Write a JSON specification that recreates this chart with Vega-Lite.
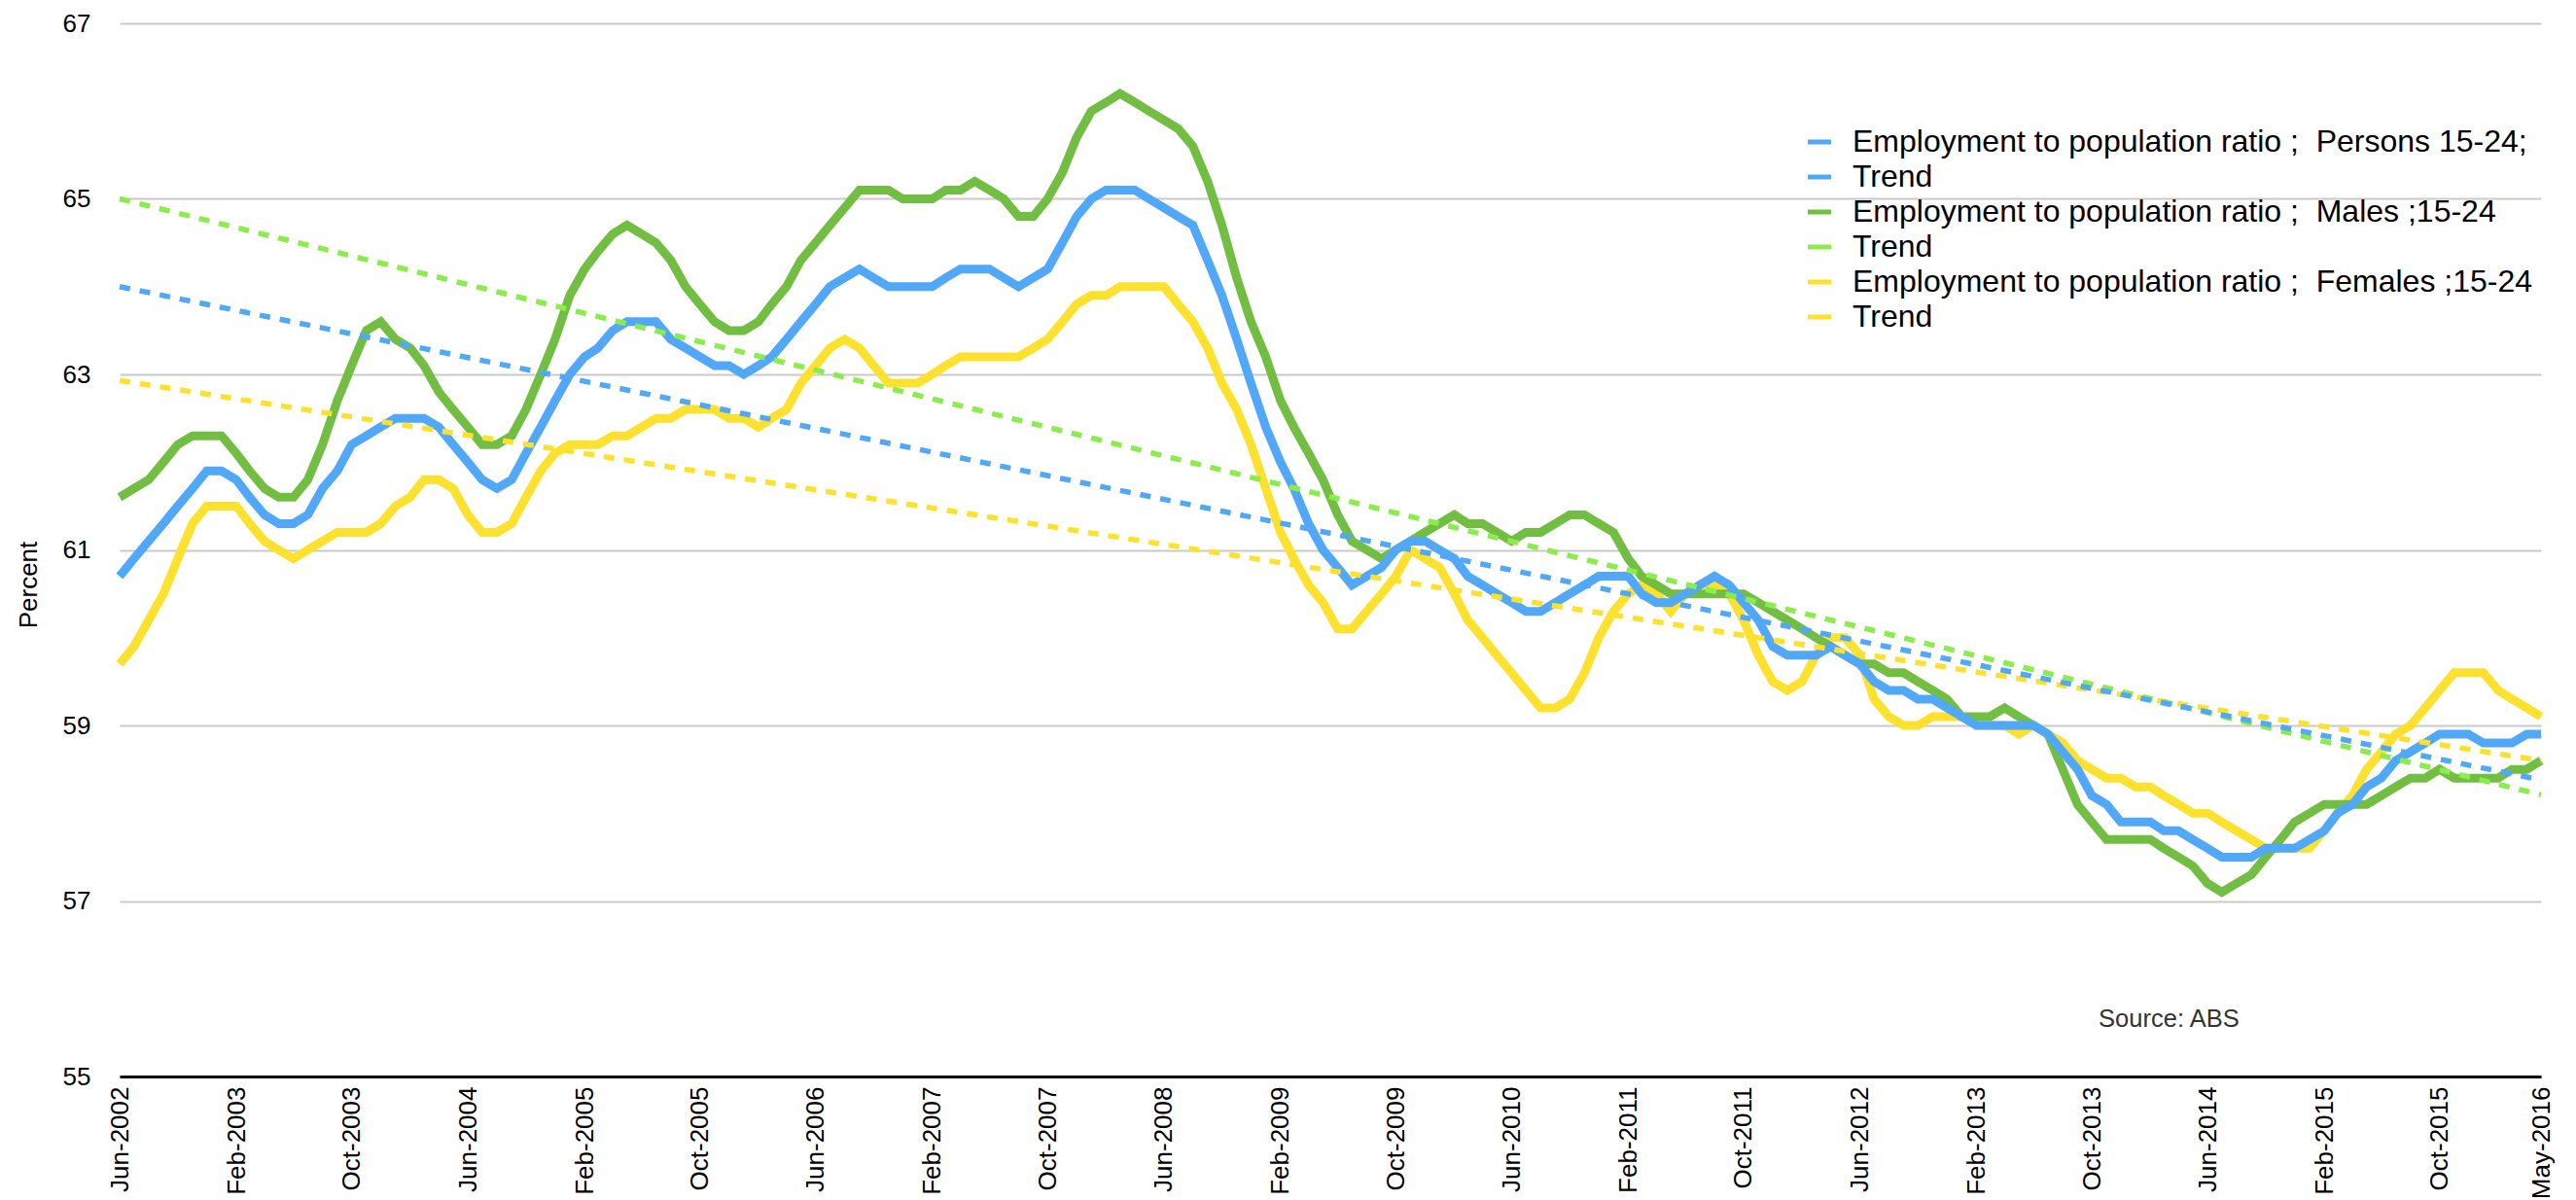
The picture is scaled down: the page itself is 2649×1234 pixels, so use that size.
{
  "$schema": "https://vega.github.io/schema/vega-lite/v6.json",
  "width": 2490,
  "height": 1083,
  "autosize": {"type": "none"},
  "padding": {"left": 123, "top": 24, "right": 36, "bottom": 127},
  "background": "white",
  "config": {
    "view": {"stroke": null},
    "font": "Liberation Sans",
    "axisY": {"format": "d", "titleFontSize": 26, "titleFontWeight": "normal", "titleColor": "black", "titleFont": "Liberation Sans"},
    "legend": {"title": null, "padding": 0}
  },
  "datasets": {
    "emp": [
      {"m":"2002-06","P":60.7,"M":61.6,"F":59.7},
      {"m":"2002-07","P":60.9,"M":61.7,"F":59.9},
      {"m":"2002-08","P":61.1,"M":61.8,"F":60.2},
      {"m":"2002-09","P":61.3,"M":62.0,"F":60.5},
      {"m":"2002-10","P":61.5,"M":62.2,"F":60.9},
      {"m":"2002-11","P":61.7,"M":62.3,"F":61.3},
      {"m":"2002-12","P":61.9,"M":62.3,"F":61.5},
      {"m":"2003-01","P":61.9,"M":62.3,"F":61.5},
      {"m":"2003-02","P":61.8,"M":62.1,"F":61.5},
      {"m":"2003-03","P":61.6,"M":61.9,"F":61.3},
      {"m":"2003-04","P":61.4,"M":61.7,"F":61.1},
      {"m":"2003-05","P":61.3,"M":61.6,"F":61.0},
      {"m":"2003-06","P":61.3,"M":61.6,"F":60.9},
      {"m":"2003-07","P":61.4,"M":61.8,"F":61.0},
      {"m":"2003-08","P":61.7,"M":62.2,"F":61.1},
      {"m":"2003-09","P":61.9,"M":62.7,"F":61.2},
      {"m":"2003-10","P":62.2,"M":63.1,"F":61.2},
      {"m":"2003-11","P":62.3,"M":63.5,"F":61.2},
      {"m":"2003-12","P":62.4,"M":63.6,"F":61.3},
      {"m":"2004-01","P":62.5,"M":63.4,"F":61.5},
      {"m":"2004-02","P":62.5,"M":63.3,"F":61.6},
      {"m":"2004-03","P":62.5,"M":63.1,"F":61.8},
      {"m":"2004-04","P":62.4,"M":62.8,"F":61.8},
      {"m":"2004-05","P":62.2,"M":62.6,"F":61.7},
      {"m":"2004-06","P":62.0,"M":62.4,"F":61.4},
      {"m":"2004-07","P":61.8,"M":62.2,"F":61.2},
      {"m":"2004-08","P":61.7,"M":62.2,"F":61.2},
      {"m":"2004-09","P":61.8,"M":62.3,"F":61.3},
      {"m":"2004-10","P":62.1,"M":62.6,"F":61.6},
      {"m":"2004-11","P":62.4,"M":63.0,"F":61.9},
      {"m":"2004-12","P":62.7,"M":63.4,"F":62.1},
      {"m":"2005-01","P":63.0,"M":63.9,"F":62.2},
      {"m":"2005-02","P":63.2,"M":64.2,"F":62.2},
      {"m":"2005-03","P":63.3,"M":64.4,"F":62.2},
      {"m":"2005-04","P":63.5,"M":64.6,"F":62.3},
      {"m":"2005-05","P":63.6,"M":64.7,"F":62.3},
      {"m":"2005-06","P":63.6,"M":64.6,"F":62.4},
      {"m":"2005-07","P":63.6,"M":64.5,"F":62.5},
      {"m":"2005-08","P":63.4,"M":64.3,"F":62.5},
      {"m":"2005-09","P":63.3,"M":64.0,"F":62.6},
      {"m":"2005-10","P":63.2,"M":63.8,"F":62.6},
      {"m":"2005-11","P":63.1,"M":63.6,"F":62.6},
      {"m":"2005-12","P":63.1,"M":63.5,"F":62.5},
      {"m":"2006-01","P":63.0,"M":63.5,"F":62.5},
      {"m":"2006-02","P":63.1,"M":63.6,"F":62.4},
      {"m":"2006-03","P":63.2,"M":63.8,"F":62.5},
      {"m":"2006-04","P":63.4,"M":64.0,"F":62.6},
      {"m":"2006-05","P":63.6,"M":64.3,"F":62.9},
      {"m":"2006-06","P":63.8,"M":64.5,"F":63.1},
      {"m":"2006-07","P":64.0,"M":64.7,"F":63.3},
      {"m":"2006-08","P":64.1,"M":64.9,"F":63.4},
      {"m":"2006-09","P":64.2,"M":65.1,"F":63.3},
      {"m":"2006-10","P":64.1,"M":65.1,"F":63.1},
      {"m":"2006-11","P":64.0,"M":65.1,"F":62.9},
      {"m":"2006-12","P":64.0,"M":65.0,"F":62.9},
      {"m":"2007-01","P":64.0,"M":65.0,"F":62.9},
      {"m":"2007-02","P":64.0,"M":65.0,"F":63.0},
      {"m":"2007-03","P":64.1,"M":65.1,"F":63.1},
      {"m":"2007-04","P":64.2,"M":65.1,"F":63.2},
      {"m":"2007-05","P":64.2,"M":65.2,"F":63.2},
      {"m":"2007-06","P":64.2,"M":65.1,"F":63.2},
      {"m":"2007-07","P":64.1,"M":65.0,"F":63.2},
      {"m":"2007-08","P":64.0,"M":64.8,"F":63.2},
      {"m":"2007-09","P":64.1,"M":64.8,"F":63.3},
      {"m":"2007-10","P":64.2,"M":65.0,"F":63.4},
      {"m":"2007-11","P":64.5,"M":65.3,"F":63.6},
      {"m":"2007-12","P":64.8,"M":65.7,"F":63.8},
      {"m":"2008-01","P":65.0,"M":66.0,"F":63.9},
      {"m":"2008-02","P":65.1,"M":66.1,"F":63.9},
      {"m":"2008-03","P":65.1,"M":66.2,"F":64.0},
      {"m":"2008-04","P":65.1,"M":66.1,"F":64.0},
      {"m":"2008-05","P":65.0,"M":66.0,"F":64.0},
      {"m":"2008-06","P":64.9,"M":65.9,"F":64.0},
      {"m":"2008-07","P":64.8,"M":65.8,"F":63.8},
      {"m":"2008-08","P":64.7,"M":65.6,"F":63.6},
      {"m":"2008-09","P":64.3,"M":65.2,"F":63.3},
      {"m":"2008-10","P":63.9,"M":64.7,"F":62.9},
      {"m":"2008-11","P":63.4,"M":64.1,"F":62.6},
      {"m":"2008-12","P":62.9,"M":63.6,"F":62.2},
      {"m":"2009-01","P":62.4,"M":63.2,"F":61.7},
      {"m":"2009-02","P":62.0,"M":62.7,"F":61.2},
      {"m":"2009-03","P":61.7,"M":62.4,"F":60.9},
      {"m":"2009-04","P":61.3,"M":62.1,"F":60.6},
      {"m":"2009-05","P":61.0,"M":61.8,"F":60.4},
      {"m":"2009-06","P":60.8,"M":61.4,"F":60.1},
      {"m":"2009-07","P":60.6,"M":61.1,"F":60.1},
      {"m":"2009-08","P":60.7,"M":61.0,"F":60.3},
      {"m":"2009-09","P":60.8,"M":60.9,"F":60.5},
      {"m":"2009-10","P":61.0,"M":61.0,"F":60.7},
      {"m":"2009-11","P":61.1,"M":61.1,"F":61.0},
      {"m":"2009-12","P":61.1,"M":61.2,"F":60.9},
      {"m":"2010-01","P":61.0,"M":61.3,"F":60.8},
      {"m":"2010-02","P":60.9,"M":61.4,"F":60.5},
      {"m":"2010-03","P":60.7,"M":61.3,"F":60.2},
      {"m":"2010-04","P":60.6,"M":61.3,"F":60.0},
      {"m":"2010-05","P":60.5,"M":61.2,"F":59.8},
      {"m":"2010-06","P":60.4,"M":61.1,"F":59.6},
      {"m":"2010-07","P":60.3,"M":61.2,"F":59.4},
      {"m":"2010-08","P":60.3,"M":61.2,"F":59.2},
      {"m":"2010-09","P":60.4,"M":61.3,"F":59.2},
      {"m":"2010-10","P":60.5,"M":61.4,"F":59.3},
      {"m":"2010-11","P":60.6,"M":61.4,"F":59.6},
      {"m":"2010-12","P":60.7,"M":61.3,"F":60.0},
      {"m":"2011-01","P":60.7,"M":61.2,"F":60.3},
      {"m":"2011-02","P":60.7,"M":60.9,"F":60.5},
      {"m":"2011-03","P":60.5,"M":60.7,"F":60.6},
      {"m":"2011-04","P":60.4,"M":60.6,"F":60.5},
      {"m":"2011-05","P":60.4,"M":60.5,"F":60.3},
      {"m":"2011-06","P":60.5,"M":60.5,"F":60.5},
      {"m":"2011-07","P":60.6,"M":60.5,"F":60.6},
      {"m":"2011-08","P":60.7,"M":60.5,"F":60.6},
      {"m":"2011-09","P":60.6,"M":60.5,"F":60.5},
      {"m":"2011-10","P":60.4,"M":60.5,"F":60.2},
      {"m":"2011-11","P":60.2,"M":60.4,"F":59.8},
      {"m":"2011-12","P":59.9,"M":60.3,"F":59.5},
      {"m":"2012-01","P":59.8,"M":60.2,"F":59.4},
      {"m":"2012-02","P":59.8,"M":60.1,"F":59.5},
      {"m":"2012-03","P":59.8,"M":60.0,"F":59.8},
      {"m":"2012-04","P":59.9,"M":59.9,"F":60.0},
      {"m":"2012-05","P":59.8,"M":59.8,"F":60.0},
      {"m":"2012-06","P":59.7,"M":59.7,"F":59.8},
      {"m":"2012-07","P":59.5,"M":59.7,"F":59.3},
      {"m":"2012-08","P":59.4,"M":59.6,"F":59.1},
      {"m":"2012-09","P":59.4,"M":59.6,"F":59.0},
      {"m":"2012-10","P":59.3,"M":59.5,"F":59.0},
      {"m":"2012-11","P":59.3,"M":59.4,"F":59.1},
      {"m":"2012-12","P":59.2,"M":59.3,"F":59.1},
      {"m":"2013-01","P":59.1,"M":59.1,"F":59.1},
      {"m":"2013-02","P":59.0,"M":59.1,"F":59.0},
      {"m":"2013-03","P":59.0,"M":59.1,"F":59.0},
      {"m":"2013-04","P":59.0,"M":59.2,"F":59.0},
      {"m":"2013-05","P":59.0,"M":59.1,"F":58.9},
      {"m":"2013-06","P":59.0,"M":59.0,"F":59.0},
      {"m":"2013-07","P":58.9,"M":58.9,"F":58.9},
      {"m":"2013-08","P":58.7,"M":58.5,"F":58.8},
      {"m":"2013-09","P":58.5,"M":58.1,"F":58.6},
      {"m":"2013-10","P":58.2,"M":57.9,"F":58.5},
      {"m":"2013-11","P":58.1,"M":57.7,"F":58.4},
      {"m":"2013-12","P":57.9,"M":57.7,"F":58.4},
      {"m":"2014-01","P":57.9,"M":57.7,"F":58.3},
      {"m":"2014-02","P":57.9,"M":57.7,"F":58.3},
      {"m":"2014-03","P":57.8,"M":57.6,"F":58.2},
      {"m":"2014-04","P":57.8,"M":57.5,"F":58.1},
      {"m":"2014-05","P":57.7,"M":57.4,"F":58.0},
      {"m":"2014-06","P":57.6,"M":57.2,"F":58.0},
      {"m":"2014-07","P":57.5,"M":57.1,"F":57.9},
      {"m":"2014-08","P":57.5,"M":57.2,"F":57.8},
      {"m":"2014-09","P":57.5,"M":57.3,"F":57.7},
      {"m":"2014-10","P":57.6,"M":57.5,"F":57.6},
      {"m":"2014-11","P":57.6,"M":57.7,"F":57.6},
      {"m":"2014-12","P":57.6,"M":57.9,"F":57.6},
      {"m":"2015-01","P":57.7,"M":58.0,"F":57.6},
      {"m":"2015-02","P":57.8,"M":58.1,"F":57.8},
      {"m":"2015-03","P":58.0,"M":58.1,"F":58.0},
      {"m":"2015-04","P":58.1,"M":58.1,"F":58.2},
      {"m":"2015-05","P":58.3,"M":58.1,"F":58.5},
      {"m":"2015-06","P":58.4,"M":58.2,"F":58.7},
      {"m":"2015-07","P":58.6,"M":58.3,"F":58.9},
      {"m":"2015-08","P":58.7,"M":58.4,"F":59.0},
      {"m":"2015-09","P":58.8,"M":58.4,"F":59.2},
      {"m":"2015-10","P":58.9,"M":58.5,"F":59.4},
      {"m":"2015-11","P":58.9,"M":58.4,"F":59.6},
      {"m":"2015-12","P":58.9,"M":58.4,"F":59.6},
      {"m":"2016-01","P":58.8,"M":58.4,"F":59.6},
      {"m":"2016-02","P":58.8,"M":58.4,"F":59.4},
      {"m":"2016-03","P":58.8,"M":58.5,"F":59.3},
      {"m":"2016-04","P":58.9,"M":58.5,"F":59.2},
      {"m":"2016-05","P":58.9,"M":58.6,"F":59.1}
    ],
    "trend": [
      {"m":"2002-06","s":"FT","v":62.93},
      {"m":"2016-05","s":"FT","v":58.6},
      {"m":"2002-06","s":"MT","v":65.0},
      {"m":"2016-05","s":"MT","v":58.21},
      {"m":"2002-06","s":"PT","v":64.0},
      {"m":"2016-05","s":"PT","v":58.38}
    ],
    "note": [
      {"label": "Source: ABS"}
    ]
  },
  "layer": [
    {
      "data": {"name": "emp"},
      "mark": {"type": "line", "strokeWidth": 9},
      "encoding": {
        "x": {
          "field": "m",
          "type": "temporal",
          "scale": {"type": "utc", "nice": false},
          "axis": {
            "title": null,
            "format": "%b-%Y",
            "values": [
              {"year":2002,"month":6,"utc":true},{"year":2003,"month":2,"utc":true},{"year":2003,"month":10,"utc":true},
              {"year":2004,"month":6,"utc":true},{"year":2005,"month":2,"utc":true},{"year":2005,"month":10,"utc":true},
              {"year":2006,"month":6,"utc":true},{"year":2007,"month":2,"utc":true},{"year":2007,"month":10,"utc":true},
              {"year":2008,"month":6,"utc":true},{"year":2009,"month":2,"utc":true},{"year":2009,"month":10,"utc":true},
              {"year":2010,"month":6,"utc":true},{"year":2011,"month":2,"utc":true},{"year":2011,"month":10,"utc":true},
              {"year":2012,"month":6,"utc":true},{"year":2013,"month":2,"utc":true},{"year":2013,"month":10,"utc":true},
              {"year":2014,"month":6,"utc":true},{"year":2015,"month":2,"utc":true},{"year":2015,"month":10,"utc":true},
              {"year":2016,"month":5,"utc":true}
            ],
            "labelAngle": 270,
            "labelFontSize": 26,
            "labelFont": "Liberation Sans",
            "labelColor": "black",
            "labelPadding": 10,
            "labelOverlap": false,
            "labelFlush": false,
            "labelBound": false,
            "ticks": false,
            "grid": false,
            "domainColor": "black",
            "domainWidth": 3
          }
        },
        "y": {
          "field": "F",
          "type": "quantitative",
          "title": "Percent",
          "scale": {"domain": [55, 67], "nice": false, "zero": false},
          "axis": {
            "values": [55, 57, 59, 61, 63, 65, 67],
            "format": "d",
            "grid": true,
            "gridColor": "#cacaca",
            "gridWidth": 2,
            "domain": false,
            "ticks": false,
            "labelFontSize": 26,
            "labelFont": "Liberation Sans",
            "labelColor": "black",
            "labelPadding": 30,
            "title": "Percent",
            "titleFont": "Liberation Sans",
            "titleFontSize": 26,
            "titleFontWeight": "normal",
            "titleColor": "black",
            "titleAngle": 270,
            "titleAlign": "center",
            "titleBaseline": "middle",
            "titleX": -94,
            "titleY": 577
          }
        },
        "color": {
          "datum": "F",
          "type": "nominal",
          "title": null,
          "scale": {
            "domain": ["P", "PT", "M", "MT", "F", "FT"],
            "range": ["#52A8F8", "#52A8F8", "#71BE43", "#8CEB4D", "#FCE12E", "#FCE12E"]
          },
          "legend": {
            "orient": "none",
            "legendX": 1732,
            "legendY": 106,
            "title": null,
            "padding": 0,
            "symbolType": "stroke",
            "symbolSize": 576,
            "symbolStrokeWidth": 5,
            "symbolDash": [100, 0],
            "symbolOpacity": 1,
            "labelFontSize": 32,
            "labelFont": "Liberation Sans",
            "labelColor": "black",
            "labelOffset": 18,
            "rowPadding": 4,
            "labelLimit": 1000,
            "labelExpr": "datum.label == 'P' ? 'Employment to population ratio ;\u00a0 Persons 15-24;' : datum.label == 'M' ? 'Employment to population ratio ;\u00a0 Males ;15-24' : datum.label == 'F' ? 'Employment to population ratio ;\u00a0 Females ;15-24' : 'Trend'"
          }
        }
      }
    },
    {
      "data": {"name": "emp"},
      "mark": {"type": "line", "strokeWidth": 9},
      "encoding": {
        "x": {"field": "m", "type": "temporal"},
        "y": {"field": "M", "type": "quantitative", "title": "Percent"},
        "color": {"datum": "M", "type": "nominal", "title": null}
      }
    },
    {
      "data": {"name": "emp"},
      "mark": {"type": "line", "strokeWidth": 9},
      "encoding": {
        "x": {"field": "m", "type": "temporal"},
        "y": {"field": "P", "type": "quantitative", "title": "Percent"},
        "color": {"datum": "P", "type": "nominal", "title": null}
      }
    },
    {
      "data": {"name": "trend"},
      "mark": {"type": "line", "strokeWidth": 5.5, "strokeDash": [11, 10]},
      "encoding": {
        "x": {"field": "m", "type": "temporal"},
        "y": {"field": "v", "type": "quantitative", "title": "Percent"},
        "color": {"field": "s", "type": "nominal", "title": null}
      }
    },
    {
      "data": {"name": "note"},
      "mark": {"type": "text", "fontSize": 25.5, "font": "Liberation Sans", "color": "#333333", "align": "center", "baseline": "middle"},
      "encoding": {
        "x": {"datum": {"year": 2014, "month": 3, "date": 12, "utc": true}, "type": "temporal"},
        "y": {"datum": 55.65, "type": "quantitative", "title": "Percent"},
        "text": {"field": "label", "type": "nominal"}
      }
    }
  ]
}
